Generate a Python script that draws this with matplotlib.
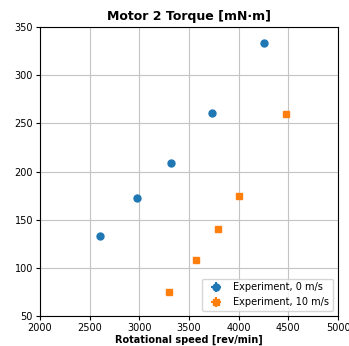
import matplotlib
matplotlib.use("Agg")
import matplotlib.pyplot as plt

# measured points, motor 2
speed_0 = [2600, 2980, 3320, 3730, 4250]
torque_0 = [133, 173, 209, 261, 334]
speed_10 = [3300, 3570, 3790, 4000, 4480]
torque_10 = [75, 108, 140, 175, 260]

# small measurement uncertainty (hidden under the markers)
speed_err = 15
torque_err = 1.5

fig = plt.figure(figsize=(3.49, 3.46), dpi=100)
ax = fig.add_axes([0.1146, 0.0867, 0.854, 0.835])

ax.errorbar(speed_0, torque_0, xerr=speed_err, yerr=torque_err, fmt='o',
            color='#1f77b4', ms=5, label='Experiment, 0 m/s')
ax.errorbar(speed_10, torque_10, xerr=speed_err, yerr=torque_err, fmt='s',
            color='#ff7f0e', ms=5, label='Experiment, 10 m/s')

ax.set_xlim(2000, 5000)
ax.set_ylim(50, 350)
ax.set_xticks([2000, 2500, 3000, 3500, 4000, 4500, 5000])
ax.set_yticks([50, 100, 150, 200, 250, 300, 350])
ax.tick_params(labelsize=7, length=3, pad=2)
ax.grid(True, color='#c4c4c4', lw=0.8)

ax.set_title('Motor 2 Torque [mN·m]', fontsize=9, fontweight='bold', pad=5)
ax.set_xlabel('Rotational speed [rev/min]', fontsize=7, fontweight='bold', labelpad=1)
ax.legend(loc='lower right', fontsize=7)

fig.savefig('out.png', dpi=100)
